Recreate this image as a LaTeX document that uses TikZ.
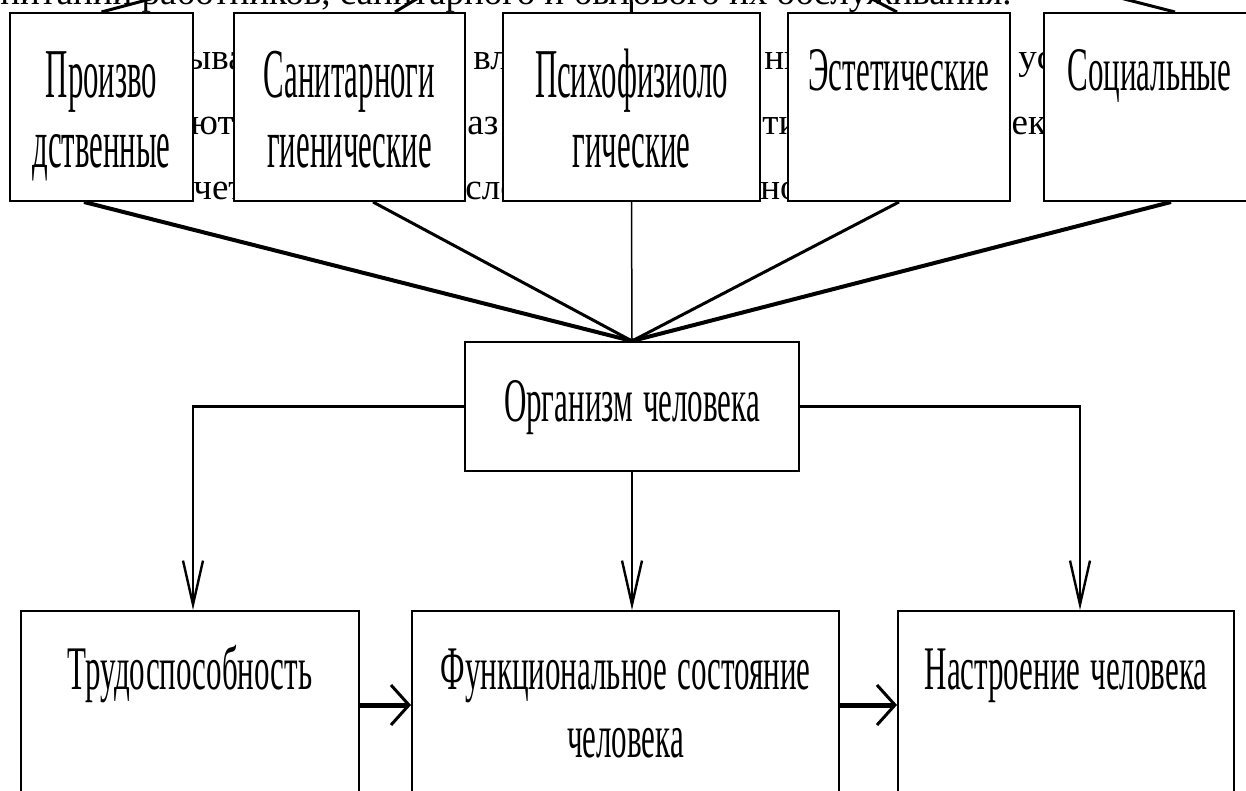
\documentclass[tikz,border=0pt]{standalone}
\usepackage{fontspec}
\setmainfont{Liberation Serif}
\newfontfamily\tallfont[FakeStretch=0.44]{Liberation Serif}
\newfontfamily\narrowfont[FakeStretch=0.5]{Liberation Serif}
\newcommand\narrowsize{\narrowfont\fontsize{31}{34}\selectfont\fontdimen2\font=5pt}
\usetikzlibrary{arrows.meta}

\begin{document}
\begin{tikzpicture}[x=0.5pt, y=-0.5pt,
    factorbox/.style={draw, line width=1pt, fill=white, inner sep=0pt, align=flush center, anchor=north west},
    twoline/.style={factorbox, font=\tallfont\fontsize{35}{35}\selectfont, text height=42.5pt, text depth=51.5pt},
    oneline/.style={factorbox, font=\narrowsize, text height=39pt, text depth=55pt},
    bgtext/.style={font=\fontsize{18.5}{18.5}\selectfont, anchor=base west, inner sep=0pt},
    downarrow/.style={line width=1.2pt, -{Straight Barb[length=22pt,width=10pt]}},
    sidearrow/.style={line width=2.5pt, -{Straight Barb[length=9pt,width=20pt,line width=1.5pt]}}]
    \useasboundingbox (0,0) rectangle (1246,791);
    \clip (0,0) rectangle (1246,791);

    % Page text behind the scheme
    \node[bgtext] (bgline) at (0,5) {питании работников, санитарного и бытового их обслуживания.};
    \foreach \x/\y/\t [count=\i] in {186/70/ыва, 473/70/вли, 764/70/ни, 1018/70/ус,
        190/135/ют, 467/135/аз, 762/135/ти, 994/135/век,
        193/200/чет, 465/200/сло, 760/200/но}
        \node[bgtext] (bgfrag\i) at (\x,\y) {\t};

    % Groups of factors
    \node[twoline, text width=91.5pt] (prod) at (9,12) {Произво\\дственные};
    \node[twoline, text width=115.5pt] (sanit) at (233,12) {Санитарноги\\гиенические};
    \node[twoline, text width=128.5pt] (psych) at (502,12) {Психофизиоло\\гические};
    \node[oneline, text width=111pt] (aesth) at (787,12) {Эстетические};
    \node[oneline, text width=105.5pt] (social) at (1043,12) {Социальные};
    \coordinate (uphub) at (628,-128);

    % Human body
    \node[factorbox, font=\narrowsize, text width=167pt,
        text height=39.5pt, text depth=25pt] (body) at (464,341) {Организм человека};

    % Results
    \node[oneline, text width=169pt] (work) at (20,610) {Трудоспособность};
    \node[oneline, text width=213.5pt] (state) at (411,610) {Функциональное состояние\\человека};
    \node[oneline, text width=168pt] (mood) at (897,610) {Настроение человека};

    % Fan of lines into the body
    \foreach \n/\s/\w in {prod/-8.75pt/2pt, sanit/11.75pt/1.5pt, psych/0pt/0.75pt,
        aesth/0pt/1.5pt, social/10.75pt/2pt}
        \draw[line width=\w] ([xshift=\s]\n.south) -- (body.north);
    \foreach \n/\s in {prod/0pt, sanit/22.75pt, psych/0pt, aesth/-1pt, social/12.75pt}
        \draw[line width=1.5pt] ([xshift=\s]\n.north) -- (uphub);

    % Arrows to the results
    \draw[downarrow] (body.west) -| ([xshift=1.5pt]work.north);
    \draw[downarrow] (body.south) -- (body.south |- state.north);
    \draw[downarrow] (body.east) -| ([xshift=7pt]mood.north);
    \draw[sidearrow] (work.east) -- (state.west);
    \draw[sidearrow] (state.east) -- (mood.west);
\end{tikzpicture}
\end{document}
